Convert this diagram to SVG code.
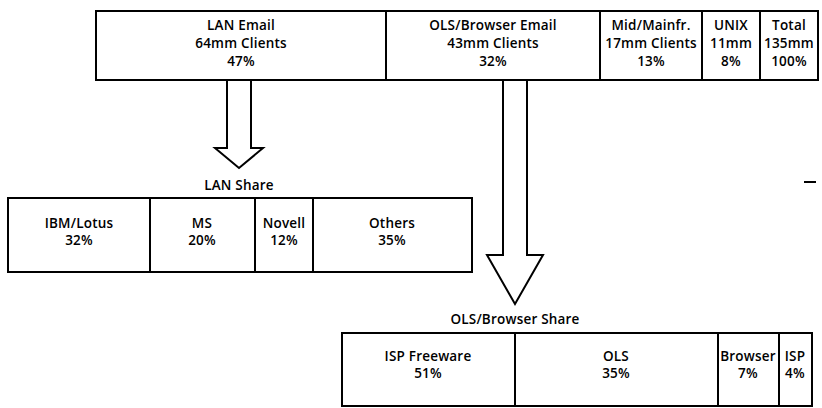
<svg xmlns="http://www.w3.org/2000/svg" width="822" height="408" viewBox="0 0 822 408">
<style>
.box{fill:#fff;stroke:#000;stroke-width:2}
.div{stroke:#000;stroke-width:2}
.arrow{fill:#fff;stroke:#000;stroke-width:2;stroke-linejoin:miter}
text{font-family:"Open Sans","Liberation Sans",sans-serif;font-size:13.5px;font-weight:600;letter-spacing:0.2px;fill:#000;text-anchor:middle}
</style>
<rect width="822" height="408" fill="#fff"/>
<g id="connectors">
<polygon class="arrow" points="227,80 227,148 215,148 239,168 263,148 251,148 251,80"/>
<polygon class="arrow" points="503,80 503,255 487,255 515,304 543,255 527,255 527,80"/>
</g>
<g id="top-table">
<rect class="box" x="96" y="11" width="722" height="69"/>
<line class="div" x1="386" y1="11" x2="386" y2="80"/>
<line class="div" x1="600" y1="11" x2="600" y2="80"/>
<line class="div" x1="702" y1="11" x2="702" y2="80"/>
<line class="div" x1="760" y1="11" x2="760" y2="80"/>
<g id="lan-email"><text x="241" y="30">LAN Email</text><text x="241" y="48">64mm Clients</text><text x="241" y="66">47%</text></g>
<g id="ols-email"><text x="493" y="30">OLS/Browser Email</text><text x="493" y="48">43mm Clients</text><text x="493" y="66">32%</text></g>
<g id="mid-mainfr"><text x="651" y="30">Mid/Mainfr.</text><text x="651" y="48">17mm Clients</text><text x="651" y="66">13%</text></g>
<g id="unix"><text x="731" y="30">UNIX</text><text x="731" y="48">11mm</text><text x="731" y="66">8%</text></g>
<g id="total"><text x="789" y="30">Total</text><text x="789" y="48">135mm</text><text x="789" y="66">100%</text></g>
</g>
<g id="lan-share">
<text x="239" y="190">LAN Share</text>
<rect class="box" x="8" y="198" width="464" height="74"/>
<line class="div" x1="150" y1="198" x2="150" y2="272"/>
<line class="div" x1="255" y1="198" x2="255" y2="272"/>
<line class="div" x1="313" y1="198" x2="313" y2="272"/>
<g id="ibm"><text x="79" y="228">IBM/Lotus</text><text x="79" y="245">32%</text></g>
<g id="ms"><text x="202" y="228">MS</text><text x="202" y="245">20%</text></g>
<g id="novell"><text x="284" y="228">Novell</text><text x="284" y="245">12%</text></g>
<g id="others"><text x="392" y="228">Others</text><text x="392" y="245">35%</text></g>
</g>
<g id="ols-share">
<text x="515" y="324">OLS/Browser Share</text>
<rect class="box" x="342" y="333" width="470" height="73"/>
<line class="div" x1="515" y1="333" x2="515" y2="406"/>
<line class="div" x1="718" y1="333" x2="718" y2="406"/>
<line class="div" x1="779" y1="333" x2="779" y2="406"/>
<g id="isp-freeware"><text x="428" y="361">ISP Freeware</text><text x="428" y="378">51%</text></g>
<g id="ols"><text x="616" y="361">OLS</text><text x="616" y="378">35%</text></g>
<g id="browser"><text x="748" y="361">Browser</text><text x="748" y="378">7%</text></g>
<g id="isp"><text x="795" y="361">ISP</text><text x="795" y="378">4%</text></g>
</g>
<line x1="804" y1="182" x2="816" y2="182" stroke="#000" stroke-width="2"/>
</svg>
